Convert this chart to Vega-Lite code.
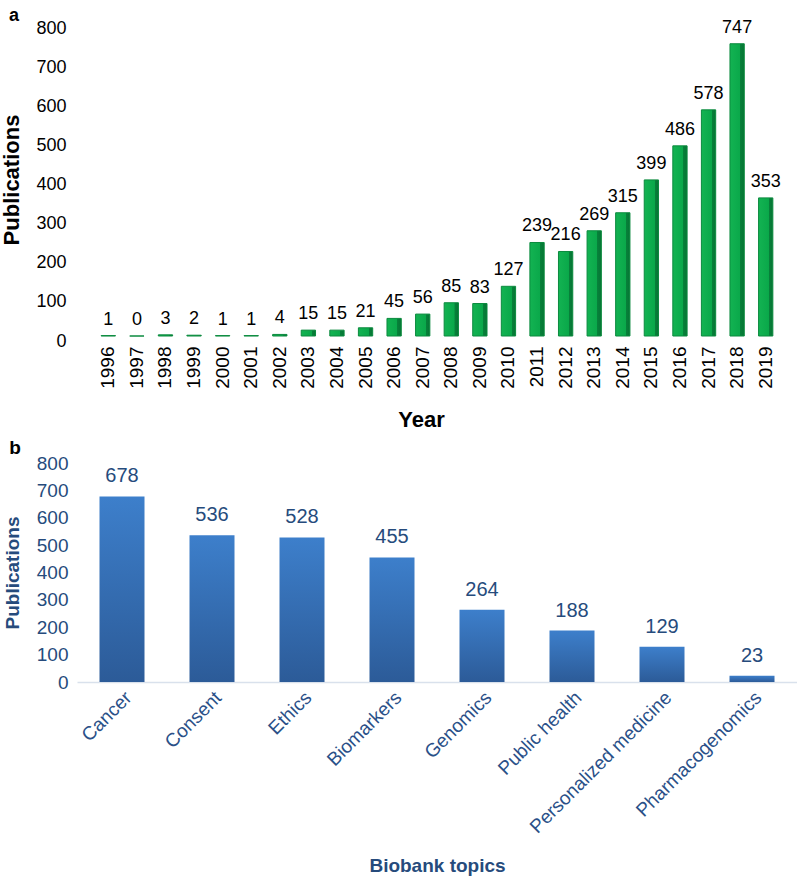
{
  "$schema": "https://vega.github.io/schema/vega-lite/v6.json",
  "padding": {"left": 0, "top": 6, "right": 0, "bottom": 0},
  "background": "white",
  "config": {
    "view": {"stroke": null},
    "font": "Liberation Sans",
    "text": {"font": "Liberation Sans"}
  },
  "datasets": {
    "years": [
      {"year": "1996", "pubs": 1}, {"year": "1997", "pubs": 0}, {"year": "1998", "pubs": 3},
      {"year": "1999", "pubs": 2}, {"year": "2000", "pubs": 1}, {"year": "2001", "pubs": 1},
      {"year": "2002", "pubs": 4}, {"year": "2003", "pubs": 15}, {"year": "2004", "pubs": 15},
      {"year": "2005", "pubs": 21}, {"year": "2006", "pubs": 45}, {"year": "2007", "pubs": 56},
      {"year": "2008", "pubs": 85}, {"year": "2009", "pubs": 83}, {"year": "2010", "pubs": 127},
      {"year": "2011", "pubs": 239}, {"year": "2012", "pubs": 216}, {"year": "2013", "pubs": 269},
      {"year": "2014", "pubs": 315}, {"year": "2015", "pubs": 399}, {"year": "2016", "pubs": 486},
      {"year": "2017", "pubs": 578}, {"year": "2018", "pubs": 747}, {"year": "2019", "pubs": 353}
    ],
    "topics": [
      {"topic": "Cancer", "pubs": 678}, {"topic": "Consent", "pubs": 536},
      {"topic": "Ethics", "pubs": 528}, {"topic": "Biomarkers", "pubs": 455},
      {"topic": "Genomics", "pubs": 264}, {"topic": "Public health", "pubs": 188},
      {"topic": "Personalized medicine", "pubs": 129}, {"topic": "Pharmacogenomics", "pubs": 23}
    ]
  },
  "spacing": 8,
  "vconcat": [
    {
      "title": {"text": "a", "anchor": "start", "frame": "bounds", "fontSize": 18, "fontWeight": "bold", "color": "#000000", "offset": -6, "dx": 8},
      "width": 703,
      "height": 313,
      "data": {"name": "years"},
      "encoding": {
        "x": {
          "field": "year", "type": "ordinal", "sort": null,
          "scale": {"paddingInner": 0.5, "paddingOuter": 0.25, "range": [17, 703]},
          "axis": {
            "title": "Year", "titleFontSize": 22, "titleFontWeight": "bold", "titleColor": "#000000", "titlePadding": 21,
            "titleX": 344, "titleAlign": "center",
            "labelAngle": -90, "labelFontSize": 19, "labelColor": "#000000", "labelPadding": 10,
            "domain": false, "ticks": false
          }
        },
        "y": {
          "field": "pubs", "type": "quantitative",
          "scale": {"domain": [0, 800]},
          "axis": {
            "title": "Publications", "titleFontSize": 22, "titleFontWeight": "bold", "titleColor": "#000000", "titlePadding": 12,
            "values": [0, 100, 200, 300, 400, 500, 600, 700, 800],
            "labelFontSize": 18, "labelColor": "#000000", "labelPadding": 11, "labelOffset": 5,
            "domain": false, "ticks": false, "grid": false
          }
        }
      },
      "layer": [
        {
          "mark": {
            "type": "bar",
            "stroke": "#0b8a3e",
            "strokeWidth": 1,
            "color": {
              "gradient": "linear", "x1": 0, "y1": 0, "x2": 1, "y2": 0,
              "stops": [
                {"offset": 0, "color": "#13b352"},
                {"offset": 0.72, "color": "#0aa84a"},
                {"offset": 0.73, "color": "#07813a"},
                {"offset": 1, "color": "#067534"}
              ]
            }
          }
        },
        {
          "mark": {"type": "text", "baseline": "bottom", "dy": -7, "fontSize": 18, "color": "#000000"},
          "encoding": {"text": {"field": "pubs", "type": "quantitative"}}
        }
      ]
    },
    {
      "title": {"text": "b", "anchor": "start", "frame": "bounds", "fontSize": 19, "fontWeight": "bold", "color": "#000000", "offset": -4, "dx": 6},
      "width": 720,
      "height": 219,
      "data": {"name": "topics"},
      "encoding": {
        "x": {
          "field": "topic", "type": "nominal", "sort": null,
          "scale": {"paddingInner": 0.5, "paddingOuter": 0.25},
          "axis": {
            "title": "Biobank topics", "titleFontSize": 19, "titleFontWeight": "bold", "titleColor": "#264b7c", "titlePadding": 20,
            "labelAngle": -45, "labelFontSize": 19, "labelColor": "#2a5088", "labelPadding": 6, "labelLimit": 0,
            "domain": true, "domainColor": "#d9e1ec", "domainWidth": 1.5, "ticks": false
          }
        },
        "y": {
          "field": "pubs", "type": "quantitative",
          "scale": {"domain": [0, 800]},
          "axis": {
            "title": "Publications", "titleFontSize": 19, "titleFontWeight": "bold", "titleColor": "#264b7c", "titlePadding": 14,
            "values": [0, 100, 200, 300, 400, 500, 600, 700, 800],
            "labelFontSize": 19, "labelColor": "#264b7c", "labelPadding": 9,
            "domain": false, "ticks": false, "grid": false
          }
        }
      },
      "layer": [
        {
          "mark": {
            "type": "bar",
            "color": {
              "gradient": "linear", "x1": 0, "y1": 0, "x2": 0, "y2": 1,
              "stops": [
                {"offset": 0, "color": "#3d7fcb"},
                {"offset": 1, "color": "#2c5b98"}
              ]
            }
          }
        },
        {
          "mark": {"type": "text", "baseline": "bottom", "dy": -10, "fontSize": 20, "color": "#264b7c"},
          "encoding": {"text": {"field": "pubs", "type": "quantitative"}}
        }
      ]
    }
  ]
}
